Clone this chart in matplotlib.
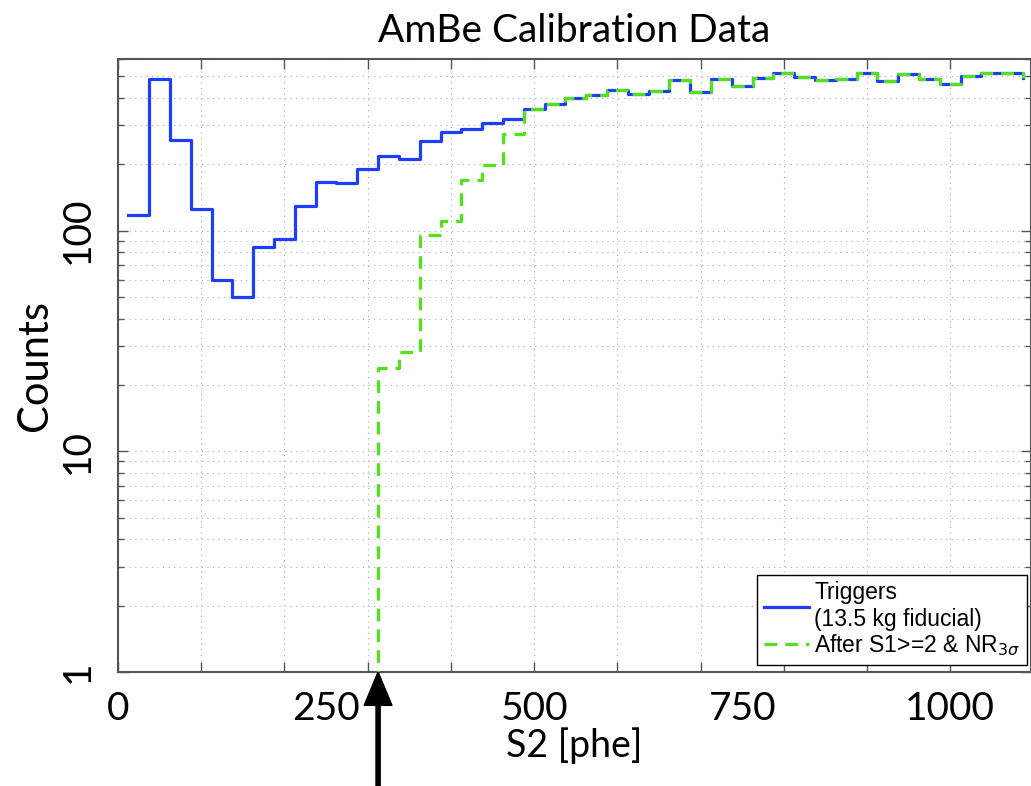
import numpy as np
import matplotlib
matplotlib.use("Agg")
from matplotlib import pyplot as plt
from matplotlib.ticker import FixedLocator, LogLocator, NullFormatter

# bin centres of the S2 histogram (25 phe bins)
bin_width = 25
n_bins = 44
s2_centers = 12.5 + bin_width * np.arange(n_bins)

# all triggers in the 13.5 kg fiducial volume
triggers = [118, 487, 257, 126, 59.5, 50, 84, 92, 130, 167,
            164, 191, 219, 212, 255, 279, 289, 308, 321, 357,
            375, 398, 410, 436, 417, 428, 482, 426, 487, 455,
            492, 519, 499, 481, 487, 519, 479, 512, 487, 464,
            503, 519, 519, 494]

# after S1>=2 and NR 3 sigma cut (zero below threshold)
after_cuts = [0, 0, 0, 0, 0, 0, 0, 0, 0, 0,
              0, 0, 23.9, 28.1, 95.9, 111, 170, 199, 274.5, 357,
              375, 398, 410, 436, 417, 428, 482, 426, 487, 455,
              492, 519, 499, 481, 487, 519, 479, 512, 487, 464,
              503, 519, 519, 494]

threshold = 312.5  # S2 threshold marked by the arrow

xtick_labels = [0, 250, 500, 750, 1000]
ytick_vals = [1, 10, 100]

blue = '#1f3dff'
green = '#52e21c'
title_font = 'Lato'

fig = plt.figure(figsize=(10.31, 7.86), dpi=100)
ax = fig.add_axes([118 / 1031, 1 - 672 / 786, 1 - 118 / 1031, (672 - 59) / 786])

ax.set_yscale('log', nonpositive='clip')

ax.step(s2_centers, triggers, where='post', color=blue, lw=2.3,
        label='Triggers\n(13.5 kg fiducial)', zorder=3)
first = 11  # start green just before the first non-empty bin
ax.step(s2_centers[first:], after_cuts[first:], where='post', color=green,
        lw=2.3, ls=(0, (4, 2.5)), label=r'After S1>=2 & NR$_{3\sigma}$', zorder=4)

ax.set_xlim(0, 1097)
ax.set_ylim(1, 600)

# matlab style ticks: every 100 phe, labels only on some of them
ax.xaxis.remove_overlapping_locs = False
ax.xaxis.set_major_locator(FixedLocator(np.arange(0, 1100, 100)))
ax.xaxis.set_major_formatter(NullFormatter())
ax.set_xticks(xtick_labels, [str(v) for v in xtick_labels], minor=True)
ax.tick_params(axis='x', which='minor', length=0, pad=14)
ax.tick_params(axis='x', which='major', length=7)

ax.yaxis.set_major_locator(FixedLocator(ytick_vals))
ax.set_yticklabels([str(v) for v in ytick_vals])
ax.yaxis.set_minor_locator(LogLocator(base=10, subs=np.arange(2, 10)))
ax.yaxis.set_minor_formatter(NullFormatter())
ax.tick_params(axis='y', which='major', labelrotation=90, pad=16, length=7)
ax.tick_params(axis='y', which='minor', length=4)

ax.tick_params(which='both', direction='in', top=True, right=True,
               width=1, color='#555555')
for lab in ax.get_xticklabels(minor=True) + ax.get_yticklabels():
    lab.set_fontfamily(title_font)
    lab.set_fontsize(28)
for lab in ax.get_yticklabels():
    lab.set_verticalalignment('center')

ax.grid(True, axis='x', which='major', ls=(0, (1, 4)), color='#aaaaaa', lw=0.8)
ax.grid(True, axis='y', which='both', ls=(0, (1, 4)), color='#aaaaaa', lw=0.8)

for sp in ax.spines.values():
    sp.set_color('#555555')
    sp.set_linewidth(1.5)

ax.set_title('AmBe Calibration Data', fontfamily=title_font, fontsize=28, pad=12)
ax.set_xlabel('S2 [phe]', fontfamily=title_font, fontsize=27, labelpad=0)
ax.set_ylabel('Counts', fontfamily=title_font, fontsize=30, labelpad=4)

leg = ax.legend(loc='lower right', bbox_to_anchor=(0.9956, 0.0114),
                borderaxespad=0, fancybox=False, edgecolor='black',
                prop={'family': 'Liberation Sans', 'size': 16.5},
                handlelength=2.0, handletextpad=0.2, labelspacing=0.05,
                borderpad=0.3, framealpha=1)
leg.get_frame().set_linewidth(1.0)

# arrow pointing at the S2 threshold from below the axis
ax.annotate('', xy=(threshold, 1), xycoords='data',
            xytext=(threshold, 0), textcoords=('data', 'figure fraction'),
            arrowprops=dict(facecolor='black', edgecolor='black', width=3,
                            headwidth=20, headlength=24, shrink=0),
            annotation_clip=False)

fig.savefig('out.png', dpi=100)
